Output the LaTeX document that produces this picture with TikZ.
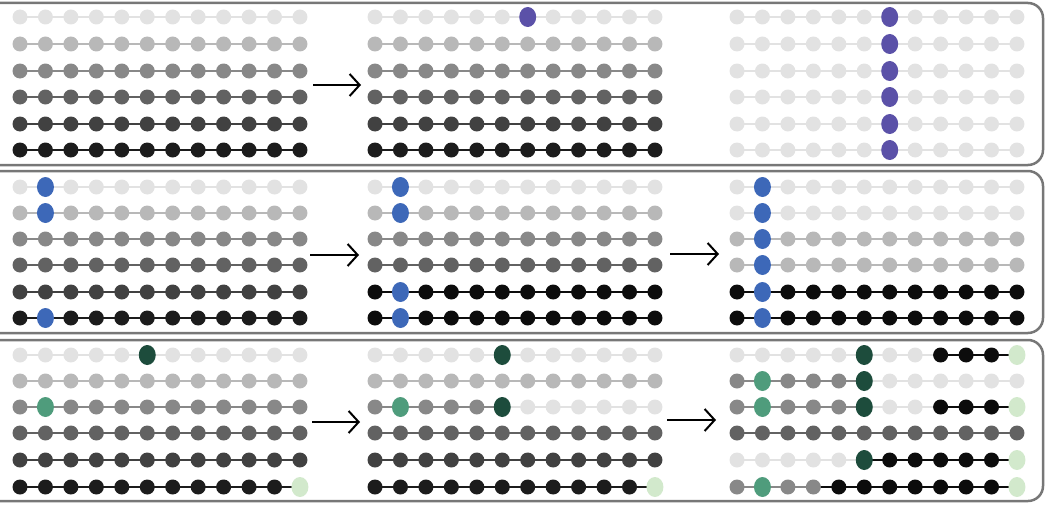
\documentclass[tikz,border=0pt]{standalone}
\usetikzlibrary{arrows.meta}
\definecolor{rA}{HTML}{E2E2E2}
\definecolor{rB}{HTML}{B8B8B8}
\definecolor{rC}{HTML}{888888}
\definecolor{rD}{HTML}{626262}
\definecolor{rE}{HTML}{414141}
\definecolor{rF}{HTML}{1C1C1C}
\definecolor{blk}{HTML}{0C0C0C}
\definecolor{purp}{HTML}{5B51A8}
\definecolor{blu}{HTML}{3D68B8}
\definecolor{dgrn}{HTML}{1D4C3C}
\definecolor{mgrn}{HTML}{4F9C7C}
\definecolor{lgrn}{HTML}{D2E9CC}
\definecolor{pnl}{HTML}{777777}
\tikzset{
  conn/.style={line width=2pt},
  panel/.style={draw=pnl,line width=2.5pt,rounded corners=15pt},
  arr/.style={line width=2pt,-{Straight Barb[length=10pt,width=22pt,line width=2pt]}}
}
\newcommand\rowline[5]{\draw[conn,#5] ({#1+(#3-1)*25.45},#2) -- ({#1+(#4-1)*25.45},#2);}
\newcommand\rowdots[5]{\foreach \c in {#3,...,#4}{\fill[#5] ({#1+(\c-1)*25.45},#2) circle (7.5pt);}}
\newcommand\fullrow[3]{\rowline{#1}{#2}{1}{12}{#3}\rowdots{#1}{#2}{1}{12}{#3}}
\newcommand\hdot[4]{\fill[#4] ({#1+(#3-1)*25.45},#2) ellipse [x radius=8.5pt, y radius=10pt];}
\begin{document}
\begin{tikzpicture}[x=1pt,y=-1pt]
\useasboundingbox (0,0) rectangle (1051,519);
\clip (0,0) rectangle (1051,519);
% panels
\draw[panel] (-30,3) rectangle (1043,165);
\draw[panel] (-30,171) rectangle (1043,333);
\draw[panel] (-30,340) rectangle (1043,501);
% ---------- Panel 1 ----------
\fullrow{20}{17}{rA}\fullrow{20}{44}{rB}\fullrow{20}{71}{rC}
\fullrow{20}{97}{rD}\fullrow{20}{124}{rE}\fullrow{20}{150}{rF}
\fullrow{375}{17}{rA}\fullrow{375}{44}{rB}\fullrow{375}{71}{rC}
\fullrow{375}{97}{rD}\fullrow{375}{124}{rE}\fullrow{375}{150}{rF}
\hdot{375}{17}{7}{purp}
\foreach \y in {17,44,71,97,124,150}{\fullrow{737}{\y}{rA}\hdot{737}{\y}{7}{purp}}
\coordinate (p1s) at (313,85); \coordinate (p1e) at (361,85);
\draw[arr] (p1s) -- (p1e);
% ---------- Panel 2 ----------
\fullrow{20}{187}{rA}\fullrow{20}{213}{rB}\fullrow{20}{239}{rC}
\fullrow{20}{265}{rD}\fullrow{20}{292}{rE}\fullrow{20}{318}{rF}
\hdot{20}{187}{2}{blu}\hdot{20}{213}{2}{blu}\hdot{20}{318}{2}{blu}
\fullrow{375}{187}{rA}\fullrow{375}{213}{rB}\fullrow{375}{239}{rC}
\fullrow{375}{265}{rD}\fullrow{375}{292}{blk}\fullrow{375}{318}{blk}
\hdot{375}{187}{2}{blu}\hdot{375}{213}{2}{blu}\hdot{375}{292}{2}{blu}\hdot{375}{318}{2}{blu}
\fullrow{737}{187}{rA}\fullrow{737}{213}{rA}\fullrow{737}{239}{rB}
\fullrow{737}{265}{rB}\fullrow{737}{292}{blk}\fullrow{737}{318}{blk}
\foreach \y in {187,213,239,265,292,318}{\hdot{737}{\y}{2}{blu}}
\coordinate (p2s) at (310,255); \coordinate (p2e) at (359,255);
\draw[arr] (p2s) -- (p2e);
\coordinate (p2t) at (670,254); \coordinate (p2u) at (719,254);
\draw[arr] (p2t) -- (p2u);
% ---------- Panel 3 ----------
\fullrow{20}{355}{rA}\fullrow{20}{381}{rB}\fullrow{20}{407}{rC}
\fullrow{20}{433}{rD}\fullrow{20}{460}{rE}\fullrow{20}{487}{rF}
\hdot{20}{355}{6}{dgrn}\hdot{20}{407}{2}{mgrn}\hdot{20}{487}{12}{lgrn}
% grid B
\fullrow{375}{355}{rA}\fullrow{375}{381}{rB}
\rowline{375}{407}{1}{6}{rC}\rowline{375}{407}{6}{12}{rA}
\rowdots{375}{407}{1}{5}{rC}\rowdots{375}{407}{7}{12}{rA}
\fullrow{375}{433}{rD}\fullrow{375}{460}{rE}\fullrow{375}{487}{rF}
\hdot{375}{355}{6}{dgrn}\hdot{375}{407}{2}{mgrn}\hdot{375}{407}{6}{dgrn}\hdot{375}{487}{12}{lgrn}
% grid C
\rowline{737}{355}{1}{9}{rA}\rowline{737}{355}{9}{12}{blk}
\rowdots{737}{355}{1}{8}{rA}\rowdots{737}{355}{9}{11}{blk}
\hdot{737}{355}{6}{dgrn}\hdot{737}{355}{12}{lgrn}
\rowline{737}{381}{1}{6}{rC}\rowline{737}{381}{6}{12}{rA}
\rowdots{737}{381}{1}{5}{rC}\rowdots{737}{381}{7}{12}{rA}
\hdot{737}{381}{2}{mgrn}\hdot{737}{381}{6}{dgrn}
\rowline{737}{407}{1}{6}{rC}\rowline{737}{407}{6}{9}{rA}\rowline{737}{407}{9}{12}{blk}
\rowdots{737}{407}{1}{5}{rC}\rowdots{737}{407}{7}{8}{rA}\rowdots{737}{407}{9}{11}{blk}
\hdot{737}{407}{2}{mgrn}\hdot{737}{407}{6}{dgrn}\hdot{737}{407}{12}{lgrn}
\fullrow{737}{433}{rD}
\rowline{737}{460}{1}{6}{rA}\rowline{737}{460}{6}{12}{blk}
\rowdots{737}{460}{1}{5}{rA}\rowdots{737}{460}{7}{11}{blk}
\hdot{737}{460}{6}{dgrn}\hdot{737}{460}{12}{lgrn}
\rowline{737}{487}{1}{4}{rC}\rowline{737}{487}{4}{12}{blk}
\rowdots{737}{487}{1}{4}{rC}\rowdots{737}{487}{5}{11}{blk}
\hdot{737}{487}{2}{mgrn}\hdot{737}{487}{12}{lgrn}
\coordinate (p3s) at (312,422); \coordinate (p3e) at (360,422);
\draw[arr] (p3s) -- (p3e);
\coordinate (p3t) at (667,420); \coordinate (p3u) at (716,420);
\draw[arr] (p3t) -- (p3u);
\end{tikzpicture}
\end{document}
